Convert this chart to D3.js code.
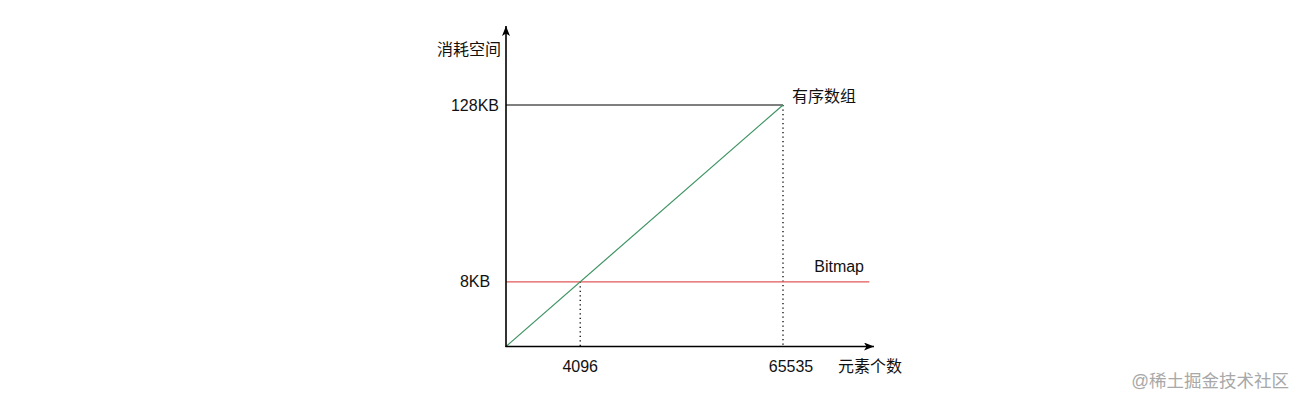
<!DOCTYPE html>
<html>
<head>
<meta charset="utf-8">
<script src="https://cdn.jsdelivr.net/npm/d3@7"></script>
<style>
  html, body { margin: 0; padding: 0; background: #fff; }
  svg { display: block; }
  text { font-family: Helvetica, Arial, "Liberation Sans", "Noto Sans CJK SC", sans-serif; fill: #111; }
</style>
</head>
<body>
<svg id="chart" width="1304" height="405"></svg>
<script>
// ---- data ----
const xTickValues = [4096, 65535];
const xTickLabels = ["4096", "65535"];
const yTickValues = [8, 128];
const yTickLabels = ["8KB", "128KB"];
const xAxisTitle = "元素个数";
const yAxisTitle = "消耗空间";
const orderedArrayX = [0, 65535];
const orderedArrayY = [0, 128];
const orderedArrayName = "有序数组";
const bitmapX = [0, 116000];
const bitmapY = [8, 8];
const bitmapName = "Bitmap";
const watermark = "@稀土掘金技术社区";

// ---- layout ----
const svg = d3.select("#chart");
const x0 = 506, y0 = 346.5;
const x = d3.scalePow().exponent(0.475).domain([0, 65535]).range([x0, 783]);
const y = d3.scalePow().exponent(0.475).domain([0, 128]).range([y0, 105]);

const defs = svg.append("defs");
defs.append("marker").attr("id", "arrow")
  .attr("viewBox", "0 0 10 8").attr("refX", 10).attr("refY", 4)
  .attr("markerWidth", 10).attr("markerHeight", 8).attr("markerUnits", "userSpaceOnUse")
  .attr("orient", "auto")
  .append("path").attr("d", "M0,0 L10,4 L0,8 L2.5,4 Z").attr("fill", "#000");

// dotted guides
const guides = [
  {xv: xTickValues[0], yv: yTickValues[0]},
  {xv: xTickValues[1], yv: yTickValues[1]}
];
svg.selectAll(".guide").data(guides).enter().append("line")
  .attr("x1", d => x(d.xv)).attr("x2", d => x(d.xv))
  .attr("y1", d => y(d.yv)).attr("y2", y0)
  .attr("stroke", "#000").attr("stroke-width", 1.3)
  .attr("stroke-dasharray", "1.3,3.2");

// 128KB horizontal black line
svg.append("line")
  .attr("x1", x(0)).attr("x2", x(65535))
  .attr("y1", y(128)).attr("y2", y(128))
  .attr("stroke", "#000").attr("stroke-width", 1.2);

// bitmap red line
const line = d3.line().x(d => x(d[0])).y(d => y(d[1]));
svg.append("path")
  .datum(bitmapX.map((v, i) => [v, bitmapY[i]]))
  .attr("d", line).attr("fill", "none")
  .attr("stroke", "#e0585a").attr("stroke-width", 1.2);

// ordered array green line
svg.append("path")
  .datum(orderedArrayX.map((v, i) => [v, orderedArrayY[i]]))
  .attr("d", line).attr("fill", "none")
  .attr("stroke", "#3f9463").attr("stroke-width", 1.2);

// axes
svg.append("line").attr("x1", x0).attr("y1", y0 + 0.5).attr("x2", x0).attr("y2", 26)
  .attr("stroke", "#000").attr("stroke-width", 1.6).attr("marker-end", "url(#arrow)");
svg.append("line").attr("x1", x0 - 0.5).attr("y1", y0).attr("x2", 874).attr("y2", y0)
  .attr("stroke", "#000").attr("stroke-width", 1.6).attr("marker-end", "url(#arrow)");

// tick labels
svg.selectAll(".ylab").data(yTickValues).enter().append("text")
  .attr("x", 475).attr("y", d => y(d)).attr("dy", "0.35em")
  .attr("text-anchor", "middle").attr("font-size", 16)
  .text((d, i) => yTickLabels[i]);
svg.selectAll(".xlab").data(xTickValues).enter().append("text")
  .attr("x", (d, i) => x(d) + (i === 1 ? 8 : 0)).attr("y", 366).attr("dy", "0.35em")
  .attr("text-anchor", "middle").attr("font-size", 16)
  .text((d, i) => xTickLabels[i]);

// axis titles
svg.append("text").attr("x", 501).attr("y", 49).attr("dy", "0.35em")
  .attr("text-anchor", "end").attr("font-size", 16).text(yAxisTitle);
svg.append("text").attr("x", 838).attr("y", 366).attr("dy", "0.35em")
  .attr("text-anchor", "start").attr("font-size", 16).text(xAxisTitle);

// series labels
svg.append("text").attr("x", 792).attr("y", 96).attr("dy", "0.35em")
  .attr("font-size", 16).text(orderedArrayName);
svg.append("text").attr("x", 864).attr("y", 266).attr("dy", "0.35em")
  .attr("text-anchor", "end").attr("font-size", 16).text(bitmapName);

// watermark
svg.append("text").attr("x", 1289).attr("y", 381).attr("dy", "0.35em")
  .attr("text-anchor", "end").attr("font-size", 17.5)
  .style("fill", "#a8a8a8").text(watermark);
</script>
</body>
</html>
